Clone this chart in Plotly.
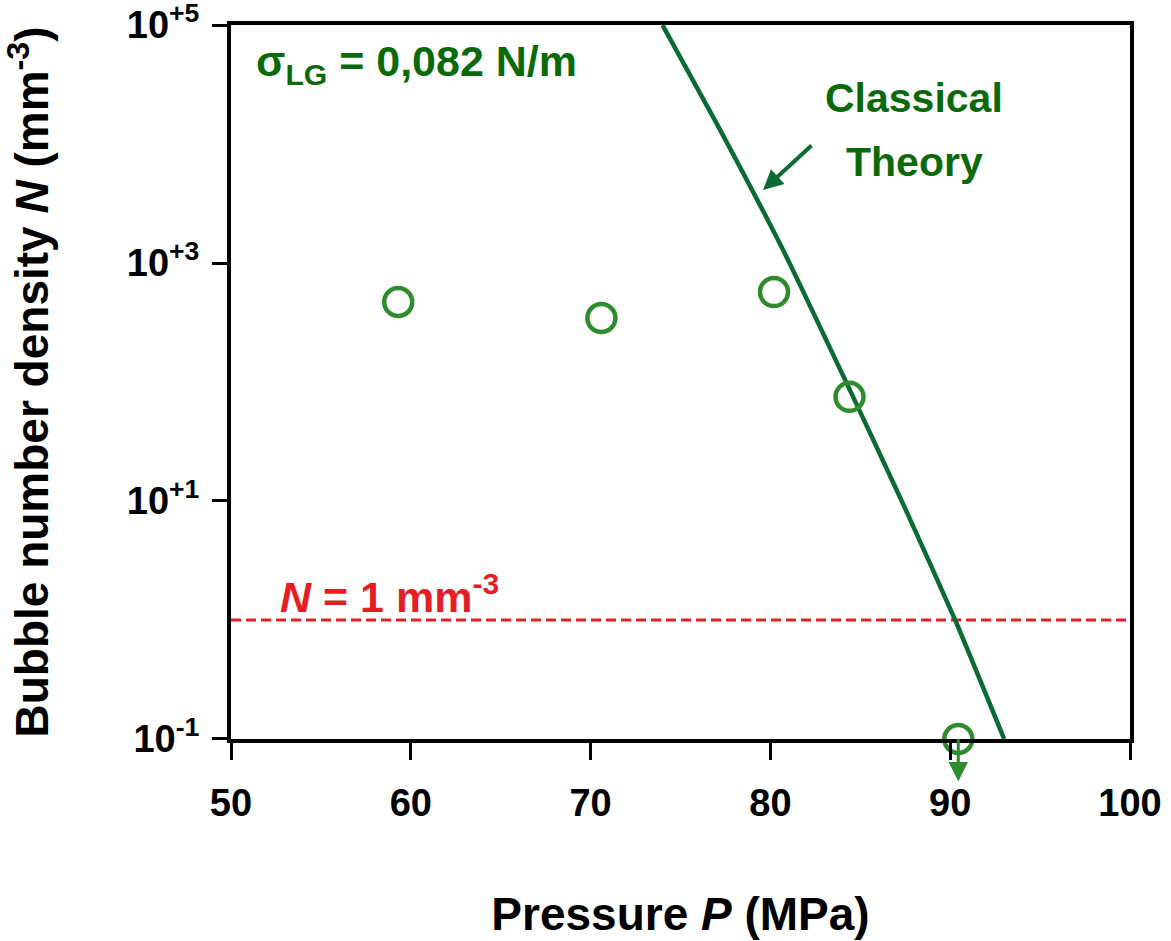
import plotly.graph_objects as go

# Experimental points (pressure in MPa, bubble number density in mm^-3)
data_P = [59.3, 70.6, 80.2, 84.4, 90.45]
data_N = [470, 345, 570, 75, 0.1]

# Classical theory curve
theory_P = [74.0, 77.0, 80.7, 84.6, 87.4, 90.3, 93.0]
theory_N = [1.0e5, 1.5e4, 1.29e3, 75, 9.3, 0.98, 0.10]

# Reference line N = 1 mm^-3
ref_P = [50, 100]
ref_N = [1, 1]

x_ticks = [50, 60, 70, 80, 90, 100]
y_ticks = [0.1, 10, 1000, 100000]
y_tick_text = ["10<sup>-1</sup>", "10<sup>+1</sup>", "10<sup>+3</sup>", "10<sup>+5</sup>"]

FONT = "Liberation Sans, Arial, sans-serif"
DARK_GREEN = "#0b6b35"
MARK_GREEN = "#2e8b2e"
TEXT_GREEN = "#0a6a0a"
RED = "#e51e25"

fig = go.Figure()

fig.add_trace(go.Scatter(
    x=ref_P, y=ref_N, mode="lines",
    line=dict(color=RED, width=3, dash="10px,5px"),
    showlegend=False, hoverinfo="skip",
))

fig.add_trace(go.Scatter(
    x=theory_P, y=theory_N, mode="lines",
    line=dict(color=DARK_GREEN, width=4.5, shape="spline", smoothing=0.5),
    showlegend=False,
))

fig.add_trace(go.Scatter(
    x=data_P, y=data_N, mode="markers",
    marker=dict(symbol="circle-open", size=28, color=MARK_GREEN,
                line=dict(width=4.5, color=MARK_GREEN)),
    cliponaxis=False, showlegend=False,
))

fig.update_layout(
    width=1171, height=941,
    margin=dict(l=231, r=41, t=25, b=202),
    paper_bgcolor="white", plot_bgcolor="white",
    font=dict(family=FONT, color="black"),
    xaxis=dict(
        range=[50, 100], tickvals=x_ticks,
        ticks="outside", ticklen=17, tickwidth=3, tickcolor="black",
        showline=True, linewidth=4, linecolor="black", mirror=True,
        showgrid=False, zeroline=False, automargin=False,
        tickfont=dict(size=38, family=FONT, weight="bold"),
        ticklabelstandoff=10, ticklabeloverflow="allow",
        title=dict(text="Pressure <i>P</i> (MPa)",
                   font=dict(size=46, family=FONT, weight="bold"),
                   standoff=76),
    ),
    yaxis=dict(
        type="log", range=[-1.0005, 5.0005],
        tickvals=y_ticks, ticktext=y_tick_text,
        ticks="outside", ticklen=15, tickwidth=3, tickcolor="black",
        showline=True, linewidth=4, linecolor="black", mirror=True,
        showgrid=False, zeroline=False, automargin=False,
        tickfont=dict(size=38, family=FONT, weight="bold"),
        ticklabelstandoff=5, ticklabeloverflow="allow",
        title=dict(text="Bubble number density <i>N</i> (mm<sup>-3</sup>)",
                   font=dict(size=46, family=FONT, weight="bold"),
                   standoff=71),
    ),
)

# Annotations
fig.add_annotation(
    x=0.026, y=0.945, xref="paper", yref="paper",
    text="σ<sub>LG</sub> = 0,082 N/m", showarrow=False,
    xanchor="left", yanchor="middle",
    font=dict(size=43, family=FONT, color=TEXT_GREEN, weight="bold"),
)
fig.add_annotation(
    x=0.052, y=0.203, xref="paper", yref="paper",
    text="<i>N</i> = 1 mm<sup>-3</sup>", showarrow=False,
    xanchor="left", yanchor="middle",
    font=dict(size=43, family=FONT, color=RED, weight="bold"),
)
fig.add_annotation(
    x=88.0, y=4.387, xref="x", yref="y",
    text="Classical", showarrow=False,
    font=dict(size=41, family=FONT, color=TEXT_GREEN, weight="bold"),
)
fig.add_annotation(
    x=88.0, y=3.849, xref="x", yref="y",
    text="Theory", showarrow=False,
    font=dict(size=41, family=FONT, color=TEXT_GREEN, weight="bold"),
)
# arrow pointing to the curve
fig.add_annotation(
    x=79.59, y=3.613, xref="x", yref="y",
    ax=50, ay=-46, axref="pixel", ayref="pixel",
    text="", showarrow=True, arrowhead=2, arrowsize=1, arrowwidth=4,
    arrowcolor=DARK_GREEN,
)
# downward arrow on the last point (upper bound)
fig.add_annotation(
    x=90.45, y=-1.0, xref="x", yref="y",
    ax=0, ay=44, axref="pixel", ayref="pixel",
    text="", showarrow=True, arrowside="start",
    startarrowhead=2, startarrowsize=1.3, arrowwidth=3,
    arrowcolor=MARK_GREEN, standoff=0, startstandoff=0,
)

fig.write_html("out.html", config={"displayModeBar": False},
               post_script="document.body.style.margin='0';")
